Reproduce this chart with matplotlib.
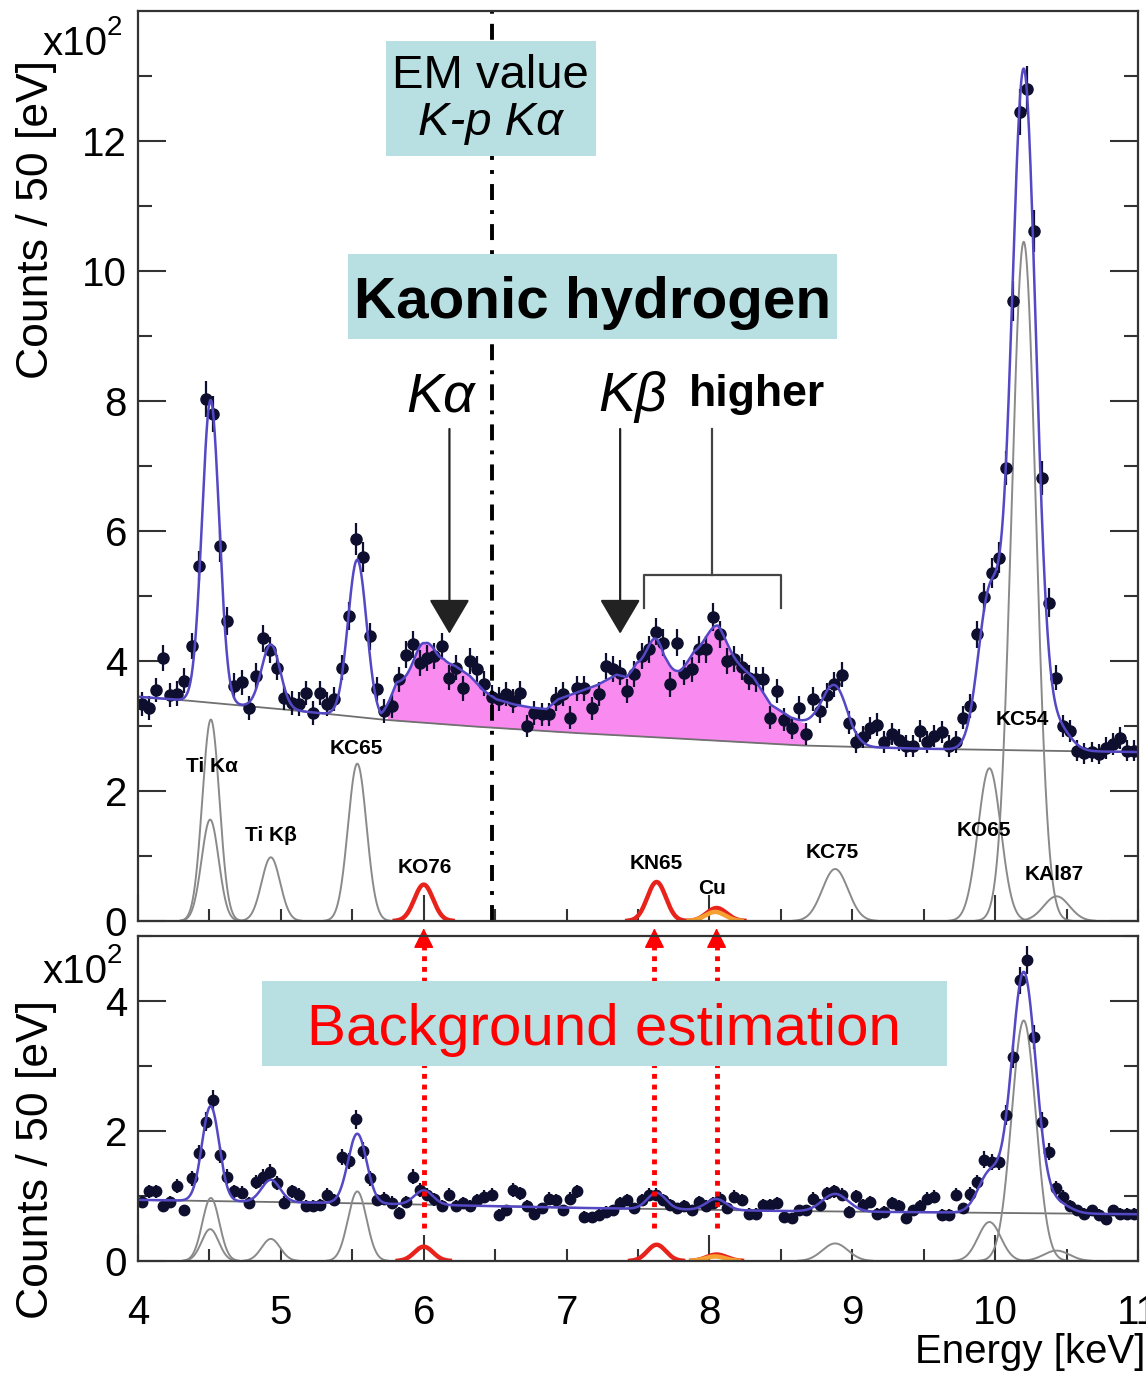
import numpy as np
import matplotlib
matplotlib.use('Agg')
import matplotlib.pyplot as plt
from matplotlib.patches import Rectangle

plt.rcParams['font.family'] = ['Liberation Sans', 'DejaVu Sans']

W, H = 1146, 1376

# ---------------- data ----------------
bin_width_keV = 0.05
energy_keV = 4.025 + bin_width_keV * np.arange(140)

# Kaonic hydrogen spectrum (x10^2 counts / 50 eV)
counts_top = [
    3.34, 3.28, 3.55, 4.05, 3.48, 3.50, 3.70, 4.23, 5.46, 8.03,
    7.80, 5.77, 4.62, 3.62, 3.67, 3.28, 3.77, 4.35, 4.17, 3.90,
    3.43, 3.36, 3.34, 3.51, 3.20, 3.51, 3.34, 3.41, 3.90, 4.69,
    5.88, 5.60, 4.38, 3.57, 3.23, 3.31, 3.72, 4.10, 4.26, 3.97,
    4.05, 4.08, 4.23, 3.74, 3.90, 3.58, 4.00, 3.88, 3.65, 3.44,
    3.41, 3.49, 3.38, 3.51, 3.00, 3.20, 3.18, 3.18, 3.41, 3.49,
    3.13, 3.58, 3.58, 3.27, 3.49, 3.92, 3.88, 3.82, 3.54, 3.80,
    4.08, 4.18, 4.45, 4.28, 3.64, 4.28, 3.82, 3.87, 4.18, 4.18,
    4.67, 4.41, 4.00, 4.03, 3.91, 3.74, 3.72, 3.72, 3.13, 3.54,
    3.10, 2.97, 3.28, 2.87, 3.42, 3.23, 3.47, 3.64, 3.79, 3.05,
    2.75, 2.83, 2.97, 3.02, 2.75, 2.87, 2.79, 2.69, 2.69, 2.92,
    2.75, 2.85, 2.91, 2.69, 2.75, 3.13, 3.31, 4.41, 4.98, 5.36,
    5.59, 6.97, 9.54, 12.44, 12.80, 10.62, 6.82, 4.90, 3.74, 3.00,
    2.92, 2.62, 2.58, 2.60, 2.57, 2.66, 2.72, 2.81, 2.62, 2.62,
]

# Background estimation spectrum (x10^2 counts / 50 eV)
counts_bottom = [
    0.91, 1.07, 1.07, 0.85, 0.91, 1.15, 0.78, 1.27, 1.66, 2.14,
    2.48, 1.63, 1.30, 1.07, 1.05, 0.89, 1.22, 1.30, 1.37, 1.20,
    0.90, 1.07, 1.02, 0.84, 0.85, 0.86, 1.02, 0.94, 1.60, 1.54,
    2.18, 1.70, 1.27, 0.94, 0.96, 0.90, 0.74, 0.91, 1.30, 1.09,
    1.02, 0.95, 0.84, 1.02, 0.84, 0.89, 0.84, 0.94, 0.99, 1.02,
    0.71, 0.78, 1.09, 1.04, 0.84, 0.73, 0.81, 0.96, 0.94, 0.78,
    0.96, 1.07, 0.68, 0.67, 0.71, 0.76, 0.78, 0.89, 0.94, 0.81,
    0.94, 1.02, 1.02, 0.94, 0.86, 0.81, 0.84, 0.78, 0.91, 0.84,
    0.89, 0.96, 0.81, 0.99, 0.94, 0.73, 0.73, 0.86, 0.86, 0.89,
    0.68, 0.66, 0.78, 0.78, 0.96, 0.86, 1.04, 1.07, 1.02, 0.76,
    1.00, 0.86, 0.91, 0.73, 0.76, 0.89, 0.84, 0.66, 0.78, 0.84,
    0.96, 0.99, 0.71, 0.71, 1.02, 0.81, 1.03, 1.22, 1.56, 1.53,
    1.53, 2.25, 3.14, 4.32, 4.63, 3.45, 2.14, 1.68, 1.12, 0.99,
    0.84, 0.78, 0.73, 0.78, 0.71, 0.64, 0.78, 0.73, 0.73, 0.73,
]

# continuum background of the fits
bg_top_x = [4.0, 4.3, 5.0, 5.7, 6.3, 7.0, 7.6, 8.0, 8.65, 9.5, 10.3, 11.0]
bg_top_y = [3.45, 3.40, 3.26, 3.10, 3.00, 2.90, 2.83, 2.78, 2.70, 2.65, 2.62, 2.60]
bg_bot_x = [4.0, 5.5, 7.0, 8.5, 11.0]
bg_bot_y = [0.94, 0.89, 0.82, 0.77, 0.72]

# fitted X-ray lines (gray): centre keV, sigma keV, height top / bottom
gray_names = ['Ti Ka1', 'Ti Ka2', 'Ti Kb', 'KC65', 'KC75', 'KO65', 'KC54', 'KAl87']
gray_center = [4.510, 4.505, 4.930, 5.535, 8.880, 9.960, 10.200, 10.430]
gray_sigma = [0.060, 0.060, 0.065, 0.065, 0.090, 0.080, 0.085, 0.090]
gray_height_top = [3.10, 1.56, 0.98, 2.42, 0.80, 2.35, 10.45, 0.38]
gray_height_bot = [0.97, 0.49, 0.34, 1.07, 0.27, 0.60, 3.70, 0.16]

# lines overlapping the kaonic hydrogen signal (red)
red_names = ['KO76', 'KN65', 'Cu Ka1', 'Cu Ka2']
red_center = [6.00, 7.63, 8.05, 8.04]
red_sigma = [0.065, 0.065, 0.070, 0.070]
red_height_top = [0.56, 0.60, 0.20, 0.14]
red_height_bot = [0.22, 0.25, 0.10, 0.07]
red_color = ['#e8231c', '#e8231c', '#e8231c', '#f5a030']

# kaonic hydrogen signal above background (K-series), x10^2 counts
kh_x = [5.70, 5.76, 5.81, 5.93, 6.01, 6.07, 6.14, 6.22, 6.32, 6.42, 6.51, 6.63,
        6.74, 6.86, 6.94, 7.10, 7.21, 7.35, 7.42, 7.49, 7.61, 7.68, 7.80, 7.89,
        8.01, 8.06, 8.17, 8.31, 8.43, 8.57, 8.66, 8.72, 8.80, 8.90, 9.00]
kh_y = [0.00, 0.30, 0.58, 0.64, 0.67, 0.84, 0.95, 0.91, 0.78, 0.56, 0.44, 0.38,
        0.35, 0.34, 0.50, 0.65, 0.75, 0.93, 0.90, 1.07, 0.94, 0.83, 1.03, 1.32,
        1.40, 1.44, 1.24, 1.00, 0.60, 0.42, 0.35, 0.30, 0.22, 0.12, 0.00]
kh_fill_range = (5.745, 8.675)

em_value_keV = 6.48
arrow_kalpha_keV = 6.18
arrow_kbeta_keV = 7.375
bg_arrow_keV = [6.00, 7.615, 8.05]

label_text = ['Ti Kα', 'Ti Kβ', 'KC65', 'KO76', 'KN65', 'Cu', 'KC75', 'KO65', 'KC54', 'KAl87']
label_x = [4.52, 4.93, 5.53, 6.005, 7.63, 8.02, 8.86, 9.92, 10.19, 10.41]
label_y = [2.38, 1.32, 2.65, 0.83, 0.89, 0.50, 1.05, 1.40, 3.10, 0.71]

# ---------------- helpers ----------------
def gauss(x, c, h, s):
    return h * np.exp(-0.5 * ((x - c) / s) ** 2)

xf = np.linspace(4.0, 11.0, 2801)
x = np.asarray(energy_keV)
yt = np.asarray(counts_top)
yb = np.asarray(counts_bottom)

BOX = '#b8e0e3'
BLUE = '#5448c4'
PT = '#0e0e2e'
GRAY = '#8a8a8a'

fig = plt.figure(figsize=(W / 100, H / 100), dpi=100)
ax1 = fig.add_axes([138 / W, 1 - 921 / H, 1000 / W, 910 / H])
ax2 = fig.add_axes([138 / W, 1 - 1261 / H, 1000 / W, 325 / H])


def draw_panel(ax, counts, bgx, bgy, gh, rh, signal):
    bg = np.interp(xf, bgx, bgy)
    grays = [gauss(xf, c, h, s) for c, h, s in zip(gray_center, gh, gray_sigma)]
    reds = [gauss(xf, c, h, s) for c, h, s in zip(red_center, rh, red_sigma)]
    gsum = np.sum(grays, axis=0)
    rsum = np.sum(reds, axis=0)
    sig = np.interp(xf, kh_x, kh_y, left=0, right=0) if signal else 0 * xf
    fit = bg + gsum + rsum + sig
    if signal:
        m = (xf >= kh_fill_range[0]) & (xf <= kh_fill_range[1])
        ax.fill_between(xf, bg, fit - gsum, where=m, color='#f98af0', lw=0, zorder=1)
    ax.plot(xf, bg, color='#707070', lw=1.3, zorder=2)
    for g in grays:
        m = g > 0.004
        ax.plot(xf[m], g[m], color=GRAY, lw=1.4, zorder=2)
    for r, col in zip(reds, red_color):
        m = r > 0.004
        ax.plot(xf[m], r[m], color=col, lw=3.2, zorder=3)
    yerr = np.sqrt(np.asarray(counts)) / 10.0
    ax.errorbar(x, counts, yerr=yerr, fmt='o', ms=8 if signal else 7.5, color=PT,
                ecolor=PT, elinewidth=1.6, capsize=0, zorder=4)
    ax.plot(xf, fit, color=BLUE, lw=1.8, zorder=5)


draw_panel(ax1, yt, bg_top_x, bg_top_y, gray_height_top, red_height_top, True)
draw_panel(ax2, yb, bg_bot_x, bg_bot_y, gray_height_bot, red_height_bot, False)

ax1.set_xlim(4, 11)
ax1.set_ylim(0, 14)
ax2.set_xlim(4, 11)
ax2.set_ylim(0, 5)

ax1.set_yticks([0, 2, 4, 6, 8, 10, 12])
ax1.set_yticks(np.arange(1, 14, 2), minor=True)
ax2.set_yticks([0, 2, 4])
ax2.set_yticks([1, 3, 5], minor=True)

xmaj = [4, 6, 8, 10]
xmin = [4.5, 5, 5.5, 6.5, 7, 7.5, 8.5, 9, 9.5, 10.5, 11]
xmin_lab = ['', '5', '', '', '7', '', '', '9', '', '', '11']
for ax in (ax1, ax2):
    ax.set_xticks(xmaj, labels=['4', '6', '8', '10'])
    ax.set_xticks(xmin, labels=xmin_lab, minor=True)
    ax.tick_params(which='both', direction='in', top=False, right=True,
                   width=1.5, color='#333333', labelsize=29)
    ax.tick_params(axis='y', which='major', length=20, pad=8)
    ax.tick_params(axis='y', which='minor', length=10)
    ax.tick_params(axis='x', which='major', length=19, pad=24)
    ax.tick_params(axis='x', which='minor', length=8.5, pad=24)
    for sp in ax.spines.values():
        sp.set_linewidth(1.6)
        sp.set_color('#333333')
        sp.set_zorder(10)
ax1.tick_params(axis='x', which='both', labelbottom=False)

# axis titles
for ytop, ybase in ((60, 55), (1000, 983)):
    fig.text(37 / W, 1 - ytop / H, 'Counts / 50 [eV]', rotation=90,
             ha='center', va='top', fontsize=32)
    fig.text(43 / W, 1 - ybase / H, 'x10', ha='left', va='baseline', fontsize=29)
    fig.text(107 / W, 1 - (ybase - 20) / H, '2', ha='left', va='baseline', fontsize=20)
fig.text(1145 / W, 1 - 1352 / H, 'Energy [keV]', ha='right', va='center', fontsize=29)

# EM value line
ax1.axvline(em_value_keV, color='black', lw=2.8, linestyle=(0, (4.1, 2.6, 1.0, 2.6)), zorder=6)

# boxes and texts (top)
ax1.add_patch(Rectangle((5.737, 11.77), 1.47, 1.77, facecolor=BOX, edgecolor='none', zorder=7))
ax1.text(6.47, 12.81, 'EM value', ha='center', va='baseline', fontsize=34, zorder=8)
ax1.text(6.47, 12.09, 'K-p Kα', ha='center', va='baseline', fontsize=34,
         style='italic', zorder=8)
ax1.add_patch(Rectangle((5.471, 8.95), 3.424, 1.31, facecolor=BOX, edgecolor='none', zorder=7))
ax1.text(7.183, 9.277, 'Kaonic hydrogen', ha='center', va='baseline', fontsize=42,
         fontweight='bold', zorder=8)
ax1.text(5.88, 7.846, 'Kα', ha='left', va='baseline', fontsize=40, style='italic', zorder=8)
ax1.text(7.22, 7.846, 'Kβ', ha='left', va='baseline', fontsize=40, style='italic', zorder=8)
ax1.text(7.854, 7.92, 'higher', ha='left', va='baseline', fontsize=32,
         fontweight='bold', zorder=8)

arrow_style = dict(arrowstyle='-|>,head_length=2.2,head_width=1.3', mutation_scale=10,
                   lw=1.6, color='#222222', shrinkA=0, shrinkB=0)
for xa in (arrow_kalpha_keV, arrow_kbeta_keV):
    ax1.annotate('', xy=(xa, 4.42), xytext=(xa, 7.57), arrowprops=arrow_style, zorder=8)
ax1.plot([8.02, 8.02], [7.57, 5.32], color='#444444', lw=1.6, zorder=8)
ax1.plot([7.54, 7.54, 8.50, 8.50], [4.82, 5.32, 5.32, 4.82], color='#444444', lw=1.6, zorder=8)

for t, lx, ly in zip(label_text, label_x, label_y):
    ax1.text(lx, ly, t, ha='center', va='center', fontsize=15, fontweight='bold', zorder=8)

# bottom box and red arrows
ax2.add_patch(Rectangle((4.868, 3.0), 4.797, 1.31, facecolor=BOX, edgecolor='none', zorder=7))
ax2.text(7.263, 3.32, 'Background estimation', ha='center', va='baseline', fontsize=42,
         color='#ff0000', zorder=8)
for xa in bg_arrow_keV:
    ax2.plot([xa, xa], [0.51, 4.95], color='#ff0000', lw=3.5, linestyle=(0, (1.0, 1.2)),
             clip_on=False, zorder=6)
    ax2.annotate('', xy=(xa, 5.12), xytext=(xa, 4.92), annotation_clip=False,
                 arrowprops=dict(arrowstyle='-|>,head_length=0.9,head_width=0.45',
                                 mutation_scale=14, lw=1, color='#ff0000',
                                 shrinkA=0, shrinkB=0), zorder=6)

fig.savefig('out.png', dpi=100)
